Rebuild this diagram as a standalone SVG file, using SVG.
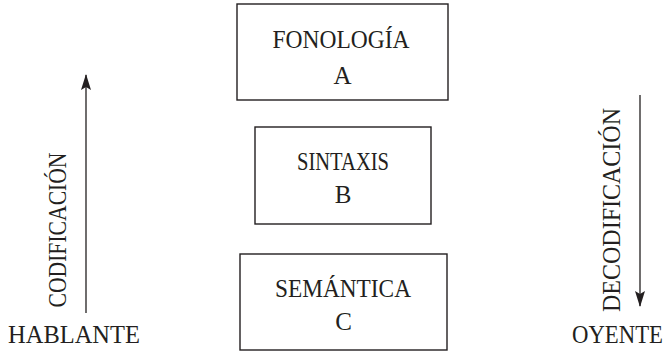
<svg xmlns="http://www.w3.org/2000/svg" width="671" height="353" viewBox="0 0 671 353">
  <style>
    .box { fill: #ffffff; stroke: #231f20; stroke-width: 1.4; }
    .lbl { font-family: 'Liberation Serif', 'Times New Roman', 'DejaVu Serif', serif; font-size: 25px; fill: #231f20; }
    .mid { text-anchor: middle; }
    .flow { stroke: #231f20; stroke-width: 1.3; fill: none; }
  </style>
  <defs>
    <!-- filled arrowhead, tip along the line direction -->
    <marker id="head" viewBox="0 0 16 10" refX="15" refY="5" markerWidth="16" markerHeight="10" markerUnits="userSpaceOnUse" orient="auto">
      <path d="M0,0 L16,5 L0,10 L3,5 Z" fill="#231f20"/>
    </marker>
  </defs>
  <rect width="671" height="353" fill="#ffffff"/>

  <g id="fonologia">
    <rect class="box" x="237" y="4" width="211" height="96"/>
    <text class="lbl mid" x="341" y="48" textLength="137" lengthAdjust="spacingAndGlyphs">FONOLOGÍA</text>
    <text class="lbl mid" x="342.5" y="84">A</text>
  </g>

  <g id="sintaxis">
    <rect class="box" x="255" y="127" width="176" height="97"/>
    <text class="lbl mid" x="343" y="170" textLength="92" lengthAdjust="spacingAndGlyphs">SINTAXIS</text>
    <text class="lbl mid" x="343" y="203">B</text>
  </g>

  <g id="semantica">
    <rect class="box" x="240" y="254" width="207" height="96"/>
    <text class="lbl mid" x="343" y="297" textLength="136" lengthAdjust="spacingAndGlyphs">SEMÁNTICA</text>
    <text class="lbl mid" x="343.5" y="330">C</text>
  </g>

  <g id="hablante">
    <text class="lbl" x="8" y="343" textLength="132" lengthAdjust="spacingAndGlyphs">HABLANTE</text>
  </g>

  <g id="oyente">
    <text class="lbl" x="572" y="343" textLength="91" lengthAdjust="spacingAndGlyphs">OYENTE</text>
  </g>

  <g id="connectors">
    <line class="flow" x1="86" y1="313" x2="86" y2="75" marker-end="url(#head)"/>
    <text class="lbl mid" transform="translate(66,230) rotate(-90)" textLength="155" lengthAdjust="spacingAndGlyphs">CODIFICACIÓN</text>
    <line class="flow" x1="640" y1="95" x2="640" y2="306" marker-end="url(#head)"/>
    <text class="lbl mid" transform="translate(620,210) rotate(-90)" textLength="204" lengthAdjust="spacingAndGlyphs">DECODIFICACIÓN</text>
  </g>
</svg>
